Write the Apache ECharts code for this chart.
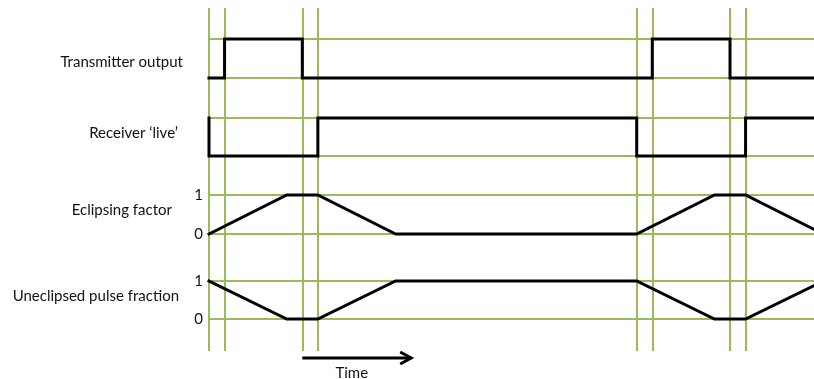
<!DOCTYPE html>
<html>
<head>
<meta charset="utf-8">
<script src="https://cdn.jsdelivr.net/npm/echarts@6/dist/echarts.min.js"></script>
<style>html,body{margin:0;padding:0;background:#fff;}#c{width:814px;height:379px;}</style>
</head>
<body>
<div id="c"></div>
<script>
// Time axis (arbitrary units)
var timeMin = 0, timeMax = 38.9;
// Event times (vertical guide lines)
var eventTimes = [0, 1, 6, 7, 27.5, 28.5, 33.5, 34.5];
// Transmitter output (step, value held until next time)
var txTimes = [0, 1, 6, 28.5, 33.5, 38.9];
var txValues = [0, 1, 0, 1, 0, 0];
// Receiver 'live' (step)
var rxTimes = [0, 0, 7, 27.5, 34.5, 38.9];
var rxValues = [1, 0, 1, 0, 1, 1];
// Eclipsing factor
var ecTimes = [0, 5, 7, 12, 27.5, 32.5, 34.5, 38.9];
var ecValues = [0, 1, 1, 0, 0, 1, 1, 0.12];
// Uneclipsed pulse fraction
var upTimes = [0, 5, 7, 12, 27.5, 32.5, 34.5, 38.9];
var upValues = [1, 0, 0, 1, 1, 0, 0, 0.88];
// Trace labels
var traceLabels = ['Transmitter output', 'Receiver \u2018live\u2019', 'Eclipsing factor', 'Uneclipsed pulse fraction'];
var yTickLabels = ['0', '1'];
var arrowTimes = [6, 13];
var arrowLabel = 'Time';

function pairs(t, v) { return t.map(function (x, i) { return [x, v[i]]; }); }

var green = '#9BBB59';
var font = 'Lato, "Open Sans", sans-serif';
var tops = [39, 118, 195, 281];
var heights = [39, 38, 39, 38];
var showTicks = [false, false, true, true];

var grids = [], xAxes = [], yAxes = [], series = [];
for (var i = 0; i < 4; i++) {
  grids.push({ left: 209, right: 0, top: tops[i], height: heights[i] });
  xAxes.push({ gridIndex: i, type: 'value', min: timeMin, max: timeMax, show: false });
  yAxes.push({
    gridIndex: i, type: 'value', min: 0, max: 1, interval: 1,
    axisLine: { show: false }, axisTick: { show: false },
    axisLabel: { show: showTicks[i], color: '#111', fontSize: 15, fontFamily: font, margin: 6,
      formatter: function (v) { return yTickLabels[v]; } },
    splitLine: { show: true, lineStyle: { color: green, width: 2 } }
  });
}
grids.push({ left: 209, right: 0, top: 8, height: 343 });
xAxes.push({ gridIndex: 4, type: 'value', min: timeMin, max: timeMax, show: false });
yAxes.push({ gridIndex: 4, type: 'value', min: 0, max: 1, show: false });

var lineStyle = { color: '#000', width: 3, join: 'miter', cap: 'square' };
var datasets = [pairs(txTimes, txValues), pairs(rxTimes, rxValues), pairs(ecTimes, ecValues), pairs(upTimes, upValues)];
var steps = ['end', 'end', false, false];
for (var j = 0; j < 4; j++) {
  series.push({
    type: 'line', xAxisIndex: j, yAxisIndex: j, data: datasets[j], step: steps[j],
    showSymbol: false, symbol: 'none', clip: false, z: 5, silent: true,
    lineStyle: lineStyle
  });
}
series.push({
  type: 'line', xAxisIndex: 4, yAxisIndex: 4, data: [], z: 1,
  markLine: {
    silent: true, symbol: ['none', 'none'], animation: false,
    label: { show: false },
    lineStyle: { color: green, width: 2, type: 'solid' },
    data: eventTimes.map(function (t) { return { xAxis: t }; })
  }
});

var chart = echarts.init(document.getElementById('c'), null, { renderer: 'canvas' });
chart.setOption({
  animation: false,
  backgroundColor: '#fff',
  grid: grids, xAxis: xAxes, yAxis: yAxes, series: series
});

var labelRights = [183, 178, 172, 179];
var labelYs = [62, 133, 210, 296];
var graphics = traceLabels.map(function (s, k) {
  return { type: 'text', x: labelRights[k], y: labelYs[k],
    style: { text: s, fill: '#111', font: '15px ' + font, textAlign: 'right', textVerticalAlign: 'middle' } };
});
var ax0 = chart.convertToPixel({ xAxisIndex: 4 }, arrowTimes[0]);
var ax1 = chart.convertToPixel({ xAxisIndex: 4 }, arrowTimes[1]);
var ay = 358;
graphics.push({ type: 'line', shape: { x1: ax0, y1: ay, x2: ax1 - 1, y2: ay }, style: { stroke: '#000', lineWidth: 3 } });
graphics.push({ type: 'polyline', shape: { points: [[ax1 - 11, ay - 6], [ax1, ay], [ax1 - 11, ay + 6]] }, style: { stroke: '#000', lineWidth: 3, fill: null } });
graphics.push({ type: 'text', x: (ax0 + ax1) / 2 - 5, y: 373,
  style: { text: arrowLabel, fill: '#111', font: '15px ' + font, textAlign: 'center', textVerticalAlign: 'middle' } });
chart.setOption({ graphic: graphics });
</script>
</body>
</html>
